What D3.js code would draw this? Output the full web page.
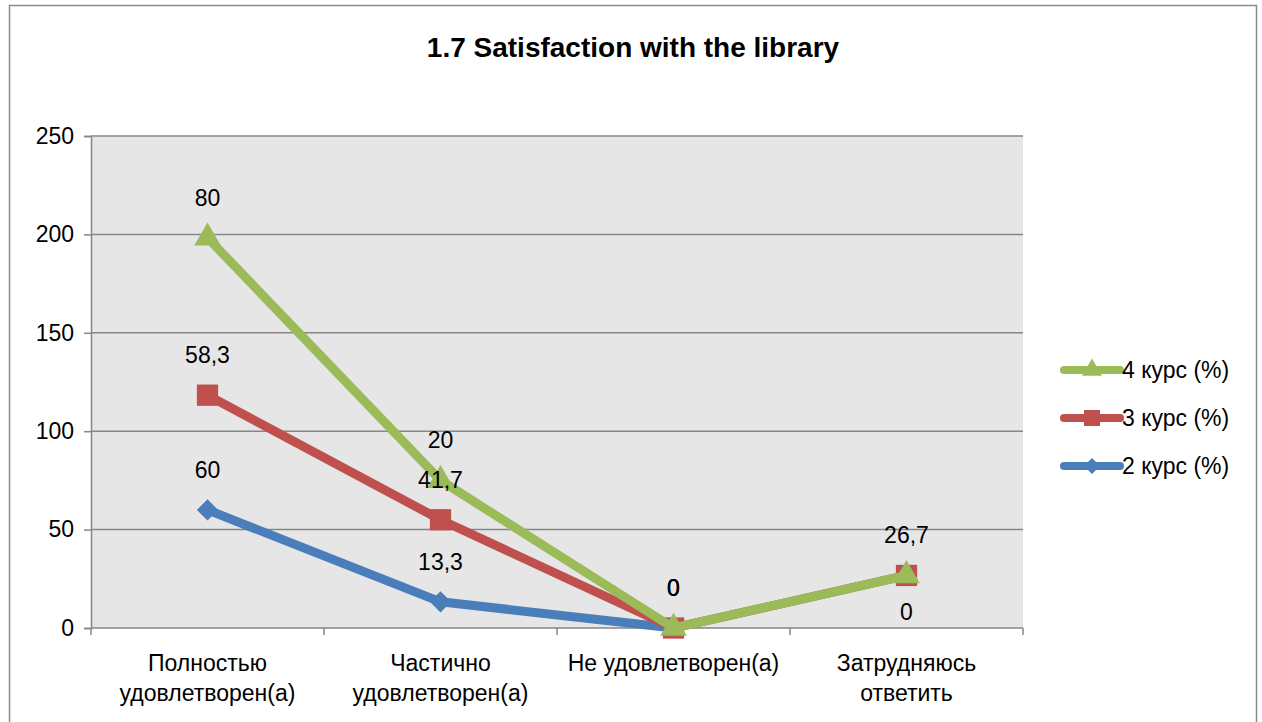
<!DOCTYPE html>
<html>
<head>
<meta charset="utf-8">
<script src="https://cdn.jsdelivr.net/npm/d3@7.9.0/dist/d3.min.js"></script>
<style>
  body { margin: 0; background: #fff; }
  svg text { font-family: "Liberation Sans", "DejaVu Sans", sans-serif; fill: #000; }
</style>
</head>
<body>
<svg id="chart" width="1262" height="722"></svg>
<script>
// ==== data ====
const categories = [
  ['Полностью', 'удовлетворен(а)'],
  ['Частично', 'удовлетворен(а)'],
  ['Не удовлетворен(а)'],
  ['Затрудняюсь', 'ответить']
];
const seriesNames = ['2 курс (%)', '3 курс (%)', '4 курс (%)'];
const kurs2 = [60, 13.3, 0, null];   // no value for the last category
const kurs3 = [58.3, 41.7, 0, 26.7];
const kurs4 = [80, 20, 0, 0];
const yTicks = [0, 50, 100, 150, 200, 250];
// where each data label sits relative to its point
const labelPlace = [
  ['above', 'above', 'above', 'none'],
  ['above', 'above', 'above', 'above'],
  ['above', 'above', 'above', 'below']
];

const colors = ['#4A7EBB', '#C0504D', '#9BBB59'];
const markers = ['diamond', 'square', 'triangle'];

// ==== layout ====
const svg = d3.select('#chart');
const plot = { left: 91, top: 136, right: 1023, bottom: 628 };
const FS = 23;

// outer frame
svg.append('path')
  .attr('d', 'M9.5,722 V5.5 H1256.5 V722')
  .attr('fill', 'none').attr('stroke', '#8c8c8c').attr('stroke-width', 1.5);

svg.append('text')
  .attr('x', 633).attr('y', 57)
  .attr('text-anchor', 'middle')
  .attr('font-size', 28).attr('font-weight', 'bold')
  .text('1.7 Satisfaction with the library');

const x = d3.scaleBand().domain(d3.range(categories.length))
  .range([plot.left, plot.right]);
const y = d3.scaleLinear().domain([0, 250]).range([plot.bottom, plot.top]);

// stacked values (blank cells count as 0 in the stack)
const raw = [kurs2, kurs3, kurs4];
const rows = d3.range(categories.length).map(i => ({ a: kurs2[i] || 0, b: kurs3[i] || 0, c: kurs4[i] || 0 }));
const stacked = d3.stack().keys(['a', 'b', 'c'])(rows);

// plot background
svg.append('rect')
  .attr('x', plot.left).attr('y', plot.top)
  .attr('width', plot.right - plot.left).attr('height', plot.bottom - plot.top)
  .attr('fill', '#e6e6e6');

// grid + y axis
const yAxis = svg.append('g')
  .attr('transform', `translate(${plot.left},0)`)
  .call(d3.axisLeft(y).tickValues(yTicks).tickSize(7).tickPadding(10));
yAxis.select('.domain').attr('stroke', '#868686').attr('stroke-width', 1.5);
yAxis.selectAll('.tick line').attr('stroke', '#868686').attr('stroke-width', 1.5);
yAxis.selectAll('.tick text').attr('font-size', FS).attr('font-family', '"Liberation Sans", sans-serif');

svg.append('g').selectAll('line')
  .data(yTicks.filter(d => d > 0))
  .enter().append('line')
  .attr('x1', plot.left).attr('x2', plot.right)
  .attr('y1', d => y(d)).attr('y2', d => y(d))
  .attr('stroke', '#868686').attr('stroke-width', 1.5);

// x axis line + ticks at band boundaries
svg.append('line')
  .attr('x1', plot.left).attr('x2', plot.right)
  .attr('y1', plot.bottom).attr('y2', plot.bottom)
  .attr('stroke', '#868686').attr('stroke-width', 1.5);
svg.append('g').selectAll('line')
  .data(d3.range(categories.length + 1))
  .enter().append('line')
  .attr('x1', i => plot.left + i * x.bandwidth())
  .attr('x2', i => plot.left + i * x.bandwidth())
  .attr('y1', plot.bottom).attr('y2', plot.bottom + 7)
  .attr('stroke', '#868686').attr('stroke-width', 1.5);

// x labels
const xl = svg.append('g').selectAll('text')
  .data(categories)
  .enter().append('text')
  .attr('text-anchor', 'middle')
  .attr('font-size', FS)
  .attr('x', (d, i) => x(i) + x.bandwidth() / 2)
  .attr('y', 671);
xl.selectAll('tspan')
  .data(d => d)
  .enter().append('tspan')
  .attr('x', function () { return this.parentNode.getAttribute('x'); })
  .attr('dy', (d, i) => i === 0 ? 0 : 30)
  .text(d => d);

// marker shapes
function markerPath(type, s) {
  if (type === 'diamond') return d3.symbol(d3.symbolDiamond2, s * s * 0.5)();
  if (type === 'square') return d3.symbol(d3.symbolSquare2, s * s)();
  return d3.symbol(d3.symbolTriangle2, s * s * 0.75)();
}
const markerSize = [24, 24, 26];

const cx = i => x(i) + x.bandwidth() / 2;

// series
stacked.forEach((s, k) => {
  const pts = s.map((d, i) => ({ i, top: d[1], v: raw[k][i] }));
  const line = d3.line()
    .defined(d => d.v != null)
    .x(d => cx(d.i))
    .y(d => y(d.top));
  const g = svg.append('g');
  g.append('path')
    .datum(pts)
    .attr('d', line)
    .attr('fill', 'none')
    .attr('stroke', colors[k])
    .attr('stroke-width', 9)
    .attr('stroke-linejoin', 'round');
  g.selectAll('path.m')
    .data(pts.filter(d => d.v != null))
    .enter().append('path')
    .attr('class', 'm')
    .attr('d', markerPath(markers[k], markerSize[k]))
    .attr('fill', colors[k])
    .attr('transform', d => `translate(${cx(d.i)},${y(d.top)})`);
});

// data labels
stacked.forEach((s, k) => {
  svg.append('g').selectAll('text')
    .data(s.map((d, i) => ({ top: d[1], v: raw[k][i], i, place: labelPlace[k][i] }))
      .filter(d => d.place !== 'none' && d.v != null))
    .enter().append('text')
    .attr('text-anchor', 'middle')
    .attr('font-size', FS)
    .attr('x', d => cx(d.i))
    .attr('y', d => y(d.top) + (d.place === 'above' ? -32 : 45))
    .text(d => String(d.v).replace('.', ','));
});

// legend
const legendItems = [2, 1, 0];
const lg = svg.append('g').selectAll('g')
  .data(legendItems)
  .enter().append('g')
  .attr('transform', (k, j) => `translate(1062,${370 + j * 48})`);
lg.append('line')
  .attr('x1', 2).attr('x2', 58).attr('y1', 0).attr('y2', 0)
  .attr('stroke', k => colors[k]).attr('stroke-width', 8).attr('stroke-linecap', 'round');
lg.append('path')
  .attr('d', k => markerPath(markers[k], markerSize[k] * 0.75))
  .attr('fill', k => colors[k])
  .attr('transform', 'translate(30,0)');
lg.append('text')
  .attr('x', 60).attr('y', 8)
  .attr('font-size', FS)
  .text(k => seriesNames[k]);
</script>
</body>
</html>
